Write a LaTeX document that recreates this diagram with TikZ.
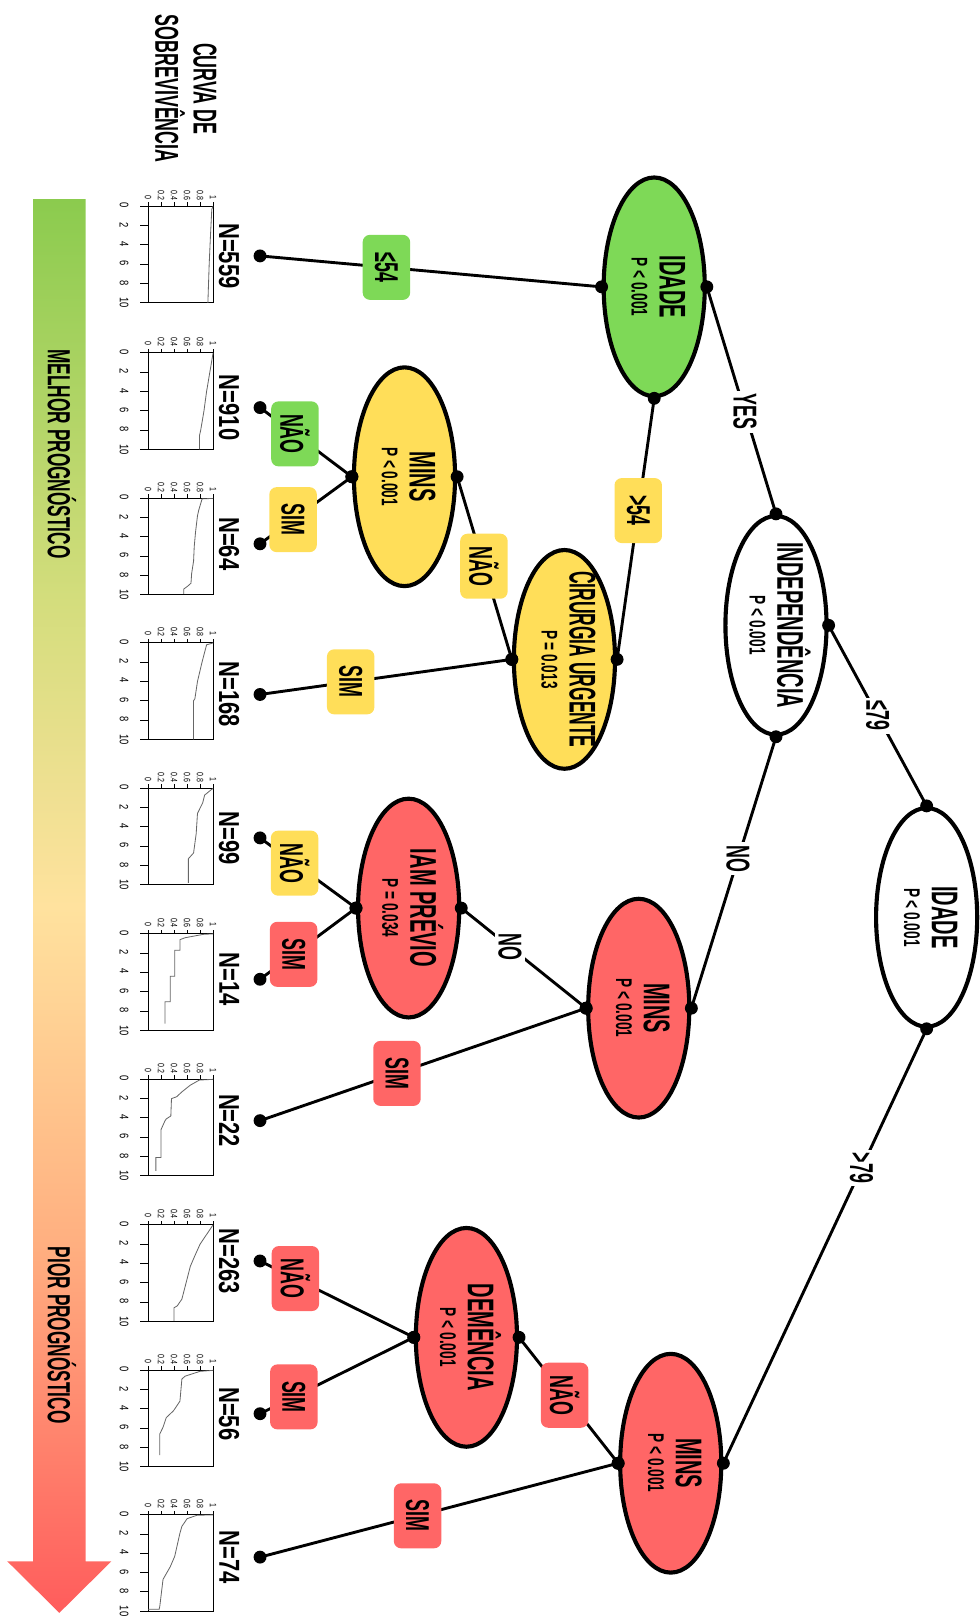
\documentclass[tikz,border=0pt]{standalone}
\usepackage{fontspec}
\usepackage{graphicx}
\usetikzlibrary{shapes.geometric,positioning}
\newfontfamily\condfont[FakeStretch=0.54]{Liberation Sans}
\newfontfamily\narrowfont[FakeStretch=0.47]{Liberation Sans}
\newfontfamily\numfont[FakeStretch=0.76]{Liberation Sans}
\newfontfamily\pfont[FakeStretch=0.6]{Liberation Sans}
\definecolor{cgreen}{HTML}{7ED957}
\definecolor{cyellow}{HTML}{FFDE59}
\definecolor{cred}{HTML}{FF6666}
\definecolor{agreen}{HTML}{8BCB4E}
\definecolor{alime}{HTML}{D3DD7C}
\definecolor{ayellow}{HTML}{FFE29E}
\definecolor{aorange}{HTML}{FFAF80}
\definecolor{ared}{HTML}{FF5C5C}
\pgfdeclareverticalshading{prognose}{100bp}{color(0bp)=(ared); color(25bp)=(ared); color(38bp)=(aorange); color(50bp)=(ayellow); color(61bp)=(alime); color(75bp)=(agreen); color(100bp)=(agreen)}
% rotated text for the sideways layout
\newcommand\vt[1]{\rotatebox[origin=c]{-90}{#1}}
\newcommand\ntext[2]{\vt{\begin{tabular}{@{}c@{}}#1\\{\pfont\bfseries\fontsize{22}{22}\selectfont #2}\end{tabular}}}
% small survival curve, #1 = top of the box, #2 = (survival,time) points
\newcommand\kmplot[2]{%
  \begin{scope}[shift={(143.5,#1)}, x=63pt, y=-9.34pt]
    \foreach \t in {0,2,...,10} {
      \draw[kmaxis] (0,\t) -- (-0.13,\t);
      \node[kmlab] at (-0.37,\t) {\vt{\t}};
    }
    \foreach \s in {0,0.2,0.4,0.6,0.8,1} {
      \draw[kmaxis] (\s,0) -- (\s,-0.42);
      \node[kmlab, anchor=south, font=\numfont\fontsize{9}{9}\selectfont] at (\s,-0.6) {\vt{\s}};
    }
    \draw[kmaxis] (0,0) rectangle (1,10);
    \draw[kmcurve] plot coordinates {#2};
  \end{scope}}
\tikzset{
  split/.style={ellipse, draw, line width=4pt, minimum width=98pt, minimum height=212pt, inner sep=0pt},
  splitg/.style={split, fill=cgreen},
  splity/.style={split, fill=cyellow},
  splitr/.style={split, fill=cred},
  splitw/.style={split, fill=white},
  ntxt/.style={inner sep=0pt, font=\condfont\bfseries\fontsize{36}{27}\selectfont},
  edge/.style={line width=2.8pt},
  dot/.style={circle, fill=black, inner sep=0pt, minimum size=12.5pt},
  lbl/.style={rounded corners=7pt, minimum width=46pt, minimum height=63pt, inner sep=0pt, font=\condfont\bfseries\fontsize{32}{32}\selectfont},
  lblg/.style={lbl, fill=cgreen},
  lbly/.style={lbl, fill=cyellow},
  lblr/.style={lbl, fill=cred},
  lblw/.style={fill=white, inner sep=3pt, font=\condfont\bfseries\fontsize{32}{32}\selectfont},
  nlab/.style={inner sep=0pt, font=\numfont\bfseries\fontsize{28}{28}\selectfont},
  kmaxis/.style={line width=0.9pt},
  kmcurve/.style={line width=0.8pt, black!60},
  kmlab/.style={inner sep=0pt, font=\numfont\fontsize{12}{12}\selectfont},
  arrowlab/.style={inner sep=0pt, font=\condfont\bfseries\fontsize{31}{31}\selectfont}
}
\begin{document}
\begin{tikzpicture}[x=1pt, y=-1pt]
\useasboundingbox (0,0) rectangle (949,1568);

% gradient arrow
\shade[shading=prognose] (32,193) -- (83,193) -- (83,1513) -- (108,1513) -- (57.5,1563) -- (7,1513) -- (32,1513) -- cycle;
\node[arrowlab] (best) at (60,440) {\vt{MELHOR PROGNÓSTICO}};
\node[arrowlab] (worst) at (60,1294) {\vt{PIOR PROGNÓSTICO}};
\node[arrowlab, font=\condfont\bfseries\fontsize{32}{28}\selectfont] (title) at (176,86)
  {\vt{\begin{tabular}{@{}c@{}}CURVA DE\\SOBREVIVÊNCIA\end{tabular}}};

% survival curves
\kmplot{200}{(1,0) (0.98,0.3) (0.96,3) (0.94,6) (0.92,10)}
\kmplot{342}{(1,0) (0.95,2) (0.9,4) (0.86,6) (0.81,8) (0.79,8.6) (0.79,10)}
\kmplot{483}{(1,0) (0.83,0.05) (0.82,0.3) (0.78,1.2) (0.76,1.8) (0.73,3.5) (0.71,5) (0.70,6.5) (0.67,7.8) (0.66,8.8) (0.61,9.1) (0.55,9.4) (0.55,9.9)}
\kmplot{623}{(1,0) (0.98,0.05) (0.9,0.2) (0.83,2) (0.76,4) (0.72,5.8) (0.70,6) (0.70,10)}
\kmplot{764}{(1,0) (0.96,0.2) (0.87,0.7) (0.84,1.5) (0.76,2.6) (0.74,4.7) (0.70,6.7) (0.62,7.3) (0.62,9.8)}
\kmplot{905}{(1,0) (0.85,0.05) (0.57,0.4) (0.49,0.6) (0.49,1.7) (0.41,1.7) (0.41,4.4) (0.34,4.4) (0.34,7.05) (0.26,7.05) (0.26,9.3)}
\kmplot{1046}{(1,0) (0.79,0.07) (0.65,0.6) (0.52,1.3) (0.44,1.8) (0.36,2) (0.35,3.8) (0.28,4.1) (0.26,4.3) (0.2,5.2) (0.2,8.1) (0.12,8.1) (0.12,9.5)}
\kmplot{1187}{(1,0) (0.9,1) (0.8,2) (0.72,3.2) (0.65,4.3) (0.57,6.4) (0.52,7.7) (0.45,8.4) (0.4,8.6) (0.4,10)}
\kmplot{1328}{(1,0) (0.8,0.1) (0.57,0.6) (0.52,0.9) (0.49,3.2) (0.39,4.2) (0.28,4.9) (0.23,5.9) (0.18,6.6) (0.18,8.8)}
\kmplot{1468}{(1,0) (0.75,0.05) (0.6,0.4) (0.52,1.2) (0.49,1.9) (0.41,4.3) (0.34,5.4) (0.23,6.7) (0.18,9.5) (0.17,9.8) (0,9.8)}

% leaves
\foreach \n/\y in {559/248, 910/395, 64/527, 168/673, 99/812, 14/949, 22/1086, 263/1222, 56/1370, 74/1509} {
  \coordinate (l\n) at (252,\y);
  \node[nlab, left=20pt of l\n] (n\n) {\vt{N=\n}};
}

% split nodes
\node[splitg] (idade1) at (634,278) {};
\node[splitw] (indep) at (752,606) {};
\node[splitw] (idade2) at (898,889) {};
\node[splity] (mins1) at (392,462) {};
\node[splity] (cirurgia) at (547,639) {};
\node[splitr] (iam) at (396,880) {};
\node[splitr] (mins2) at (619,977) {};
\node[splitr] (demencia) at (452,1296) {};
\node[splitr] (mins3) at (650,1418) {};
\node[ntxt] at (idade1) {\ntext{IDADE}{P < 0.001}};
\node[ntxt] at (indep) {\ntext{INDEPENDÊNCIA}{P < 0.001}};
\node[ntxt] at (idade2) {\ntext{IDADE}{P < 0.001}};
\node[ntxt] at (mins1) {\ntext{MINS}{P < 0.001}};
\node[ntxt, font=\narrowfont\bfseries\fontsize{36}{27}\selectfont] at (cirurgia) {\ntext{CIRURGIA URGENTE}{P = 0.013}};
\node[ntxt] at (iam) {\ntext{IAM PRÉVIO}{P = 0.034}};
\node[ntxt] at (mins2) {\ntext{MINS}{P < 0.001}};
\node[ntxt] at (demencia) {\ntext{DEMÊNCIA}{P < 0.001}};
\node[ntxt] at (mins3) {\ntext{MINS}{P < 0.001}};

% connectors
\draw[edge] (idade1.west) node[dot]{} -- node[lblg, pos=.63] {\vt{≤54}} (l559) node[dot]{};
\draw[edge] (idade1.east) node[dot]{} -- node[lblw, pos=.55] {\vt{YES}} (indep.north) node[dot]{};
\draw[edge] (idade1.south) node[dot]{} -- node[lbly, pos=.43] {\vt{>54}} (cirurgia.east) node[dot]{};
\draw[edge] (indep.east) node[dot]{} -- node[lblw, pos=.5] {\vt{≤79}} (idade2.north) node[dot]{};
\draw[edge] (indep.south) node[dot]{} -- node[lblw, pos=.45] {\vt{NO}} (mins2.east) node[dot]{};
\draw[edge] (idade2.south) node[dot]{} -- node[lblw, pos=.32] {\vt{>79}} (mins3.east) node[dot]{};
\draw[edge] (cirurgia.west) node[dot]{} -- node[lbly, pos=.64] {\vt{SIM}} (l168) node[dot]{};
\draw[edge] (cirurgia.west) node[dot]{} -- node[lbly, pos=.51] {\vt{NÃO}} (mins1.east) node[dot]{};
\draw[edge] (mins1.west) node[dot]{} -- node[lblg, pos=.62] {\vt{NÃO}} (l910) node[dot]{};
\draw[edge] (mins1.west) node[dot]{} -- node[lbly, pos=.64] {\vt{SIM}} (l64) node[dot]{};
\draw[edge] (mins2.west) node[dot]{} -- node[lblw, pos=.61] {\vt{NO}} (iam.east) node[dot]{};
\draw[edge] (mins2.west) node[dot]{} -- node[lblr, pos=.58] {\vt{SIM}} (l22) node[dot]{};
\draw[edge] (iam.west) node[dot]{} -- node[lbly, pos=.64] {\vt{NÃO}} (l99) node[dot]{};
\draw[edge] (iam.west) node[dot]{} -- node[lblr, pos=.65] {\vt{SIM}} (l14) node[dot]{};
\draw[edge] (mins3.west) node[dot]{} -- node[lblr, pos=.54] {\vt{NÃO}} (demencia.east) node[dot]{};
\draw[edge] (mins3.west) node[dot]{} -- node[lblr, pos=.56] {\vt{SIM}} (l74) node[dot]{};
\draw[edge] (demencia.west) node[dot]{} -- node[lblr, pos=.77] {\vt{NÃO}} (l263) node[dot]{};
\draw[edge] (demencia.west) node[dot]{} -- node[lblr, pos=.78] {\vt{SIM}} (l56) node[dot]{};
\end{tikzpicture}
\end{document}
